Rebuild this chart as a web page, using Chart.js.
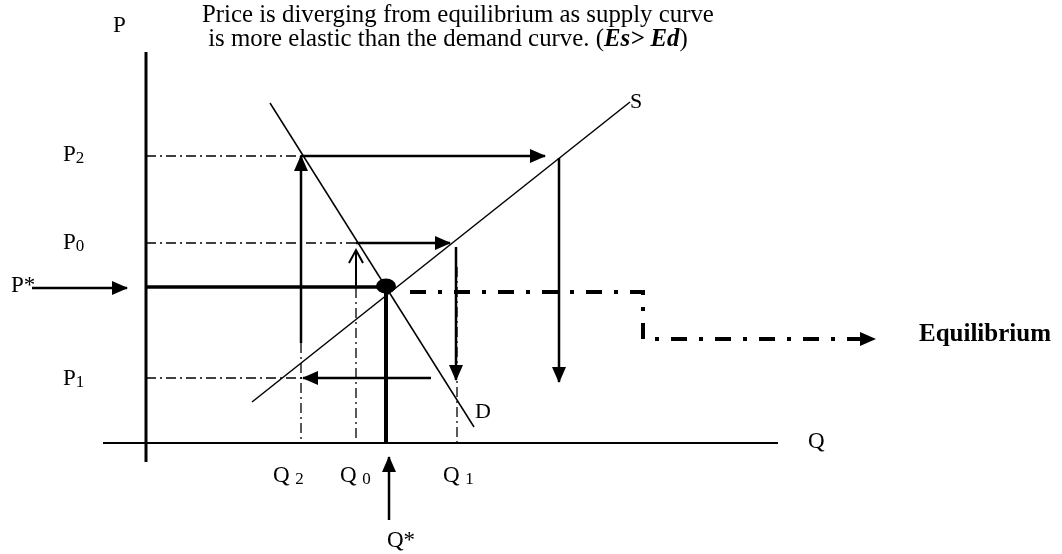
<!DOCTYPE html>
<html>
<head>
<meta charset="utf-8">
<script src="https://cdn.jsdelivr.net/npm/chart.js@4.4.1/dist/chart.umd.min.js"></script>
<style>
  html, body { margin: 0; padding: 0; background: #fff; }
  canvas { display: block; }
</style>
</head>
<body>
<canvas id="myChart" width="1062" height="554"></canvas>
<script>
// price levels (P axis) and quantity levels (Q axis)
const priceLabels = ['P2', 'P0', 'P*', 'P1'];
const priceLevels = [287, 200, 156, 65];
const quantityLabels = ['Q2', 'Q0', 'Q*', 'Q1'];
const quantityLevels = [155, 210, 240, 310];

// demand and supply curves: [Q, P] end points
const demandCurve = [[124, 340], [328, 16]];
const supplyCurve = [[106, 41], [484, 341]];

// axes
const pAxis = [[0, 391], [0, -19]];
const qAxis = [[-43, 0], [632, 0]];

// cobweb path (solid arrows)
const arrowP2 = [[155, 287], [399, 287]];
const arrowDown = [[413, 285], [413, 61]];
const arrowP0 = [[210, 200], [304, 200]];
const arrowQ1 = [[310, 196], [310, 63]];
const arrowP1 = [[285, 65], [157, 65]];
const arrowQ2 = [[155, 100], [155, 287]];
const arrowQ0 = [[210, 155], [210, 193]];

// guide lines (thin dash-dot)
const guideP2 = [[0, 287], [155, 287]];
const guideP0 = [[0, 200], [210, 200]];
const guideP1 = [[0, 65], [157, 65]];
const guideQ2 = [[155, 100], [155, 0]];
const guideQ0 = [[210, 155], [210, 0]];
const guideQ1 = [[311, 176], [311, 0]];

// equilibrium
const eqPrice = [[0, 156], [240, 156]];
const eqQuantity = [[240, 156], [240, 0]];
const eqPoint = [240, 157];
const pStarArrow = [[-114, 155], [-19, 155]];
const qStarArrow = [[243, -77], [243, -14]];
const equilibriumPath = [[264, 151], [497, 151], [497, 104], [729, 104]];

const toXY = pts => pts.map(([x, y]) => ({ x, y }));
const DASH_DOT = [10, 4, 2, 4];
const BOLD_DASH_DOT = [16, 12, 4, 12];

function seg(pts, width, extra) {
  return Object.assign({
    data: toXY(pts),
    showLine: true,
    pointRadius: 0,
    borderColor: '#000',
    backgroundColor: '#000',
    borderWidth: width,
    borderCapStyle: 'butt',
    tension: 0,
    fill: false
  }, extra || {});
}

const datasets = [
  seg(pAxis, 3),
  seg(qAxis, 2),
  seg(guideP2, 1.3, { borderDash: DASH_DOT }),
  seg(guideP0, 1.3, { borderDash: DASH_DOT }),
  seg(guideP1, 1.3, { borderDash: DASH_DOT }),
  seg(guideQ2, 1.3, { borderDash: DASH_DOT }),
  seg(guideQ0, 1.3, { borderDash: DASH_DOT }),
  seg(guideQ1, 1.3, { borderDash: DASH_DOT }),
  seg(demandCurve, 1.5),
  seg(supplyCurve, 1.5),
  seg(arrowP2, 2.5, { head: 'filled' }),
  seg(arrowDown, 2.5, { head: 'filled' }),
  seg(arrowP0, 2.5, { head: 'filled' }),
  seg(arrowQ1, 2.5, { head: 'filled' }),
  seg(arrowP1, 2.5, { head: 'filled' }),
  seg(arrowQ2, 2.5, { head: 'filled' }),
  seg(arrowQ0, 2, { head: 'open' }),
  seg(eqPrice, 3.5),
  seg(eqQuantity, 4),
  seg(pStarArrow, 2.5, { head: 'filled' }),
  seg(qStarArrow, 2.5, { head: 'filled' }),
  seg(equilibriumPath, 4, { borderDash: BOLD_DASH_DOT, head: 'filled', borderJoinStyle: 'miter' })
];

// text annotations: anchor in chart values, left / baseline aligned
const SERIF = '"Liberation Serif", "Times New Roman", serif';
const labels = [
  { text: 'P', q: -33, p: 411, size: 23 },
  { text: 'P', sub: '2', q: -83, p: priceLevels[0] - 5, size: 23 },
  { text: 'P', sub: '0', q: -83, p: priceLevels[1] - 6, size: 23 },
  { text: 'P*', q: -135, p: priceLevels[2] - 5, size: 23 },
  { text: 'P', sub: '1', q: -83, p: priceLevels[3] - 7, size: 23 },
  { text: 'Q ', sub: '2', q: 127, p: -39, size: 23 },
  { text: 'Q ', sub: '0', q: 194, p: -39, size: 23 },
  { text: 'Q*', q: 241, p: -104, size: 23 },
  { text: 'Q ', sub: '1', q: 297, p: -39, size: 23 },
  { text: 'D', q: 329, p: 25, size: 22 },
  { text: 'S', q: 484, p: 335, size: 22 },
  { text: 'Q', q: 662, p: -5, size: 23 },
  { text: 'Equilibrium', q: 773, p: 102, size: 19, bold: true, fit: 132 }
];
const titleLine1 = 'Price is diverging from equilibrium as supply curve';
const titleLine2 = [
  { text: ' is more elastic than the demand curve. (', style: '' },
  { text: 'Es> Ed', style: 'italic bold ' },
  { text: ')', style: '' }
];

const overlay = {
  id: 'overlay',
  afterDatasetsDraw(chart) {
    const { ctx } = chart;
    const sx = chart.scales.x, sy = chart.scales.y;
    const px = v => sx.getPixelForValue(v);
    const py = v => sy.getPixelForValue(v);

    // arrow heads
    chart.data.datasets.forEach(ds => {
      if (!ds.head) return;
      const a = ds.data[ds.data.length - 2], b = ds.data[ds.data.length - 1];
      const x1 = px(a.x), y1 = py(a.y), x2 = px(b.x), y2 = py(b.y);
      const ang = Math.atan2(y2 - y1, x2 - x1);
      ctx.save();
      ctx.translate(x2, y2);
      ctx.rotate(ang);
      ctx.beginPath();
      if (ds.head === 'open') {
        ctx.moveTo(-13, -7); ctx.lineTo(0, 0); ctx.lineTo(-13, 7);
        ctx.lineWidth = 2; ctx.strokeStyle = '#000'; ctx.stroke();
      } else {
        ctx.moveTo(1, 0); ctx.lineTo(-15, -7); ctx.lineTo(-15, 7); ctx.closePath();
        ctx.fillStyle = '#000'; ctx.fill();
      }
      ctx.restore();
    });

    // equilibrium point
    ctx.save();
    ctx.beginPath();
    ctx.ellipse(px(eqPoint[0]), py(eqPoint[1]), 10, 7.5, 0, 0, Math.PI * 2);
    ctx.fillStyle = '#000';
    ctx.fill();
    ctx.restore();

    // labels
    ctx.save();
    ctx.fillStyle = '#000';
    ctx.textAlign = 'left';
    ctx.textBaseline = 'alphabetic';
    labels.forEach(l => {
      let size = l.size;
      const weight = l.bold ? 'bold ' : '';
      ctx.font = weight + size + 'px ' + SERIF;
      if (l.fit) {
        size = size * l.fit / ctx.measureText(l.text).width;
        ctx.font = weight + size + 'px ' + SERIF;
      }
      const x0 = px(l.q), y0 = py(l.p);
      ctx.fillText(l.text, x0, y0);
      if (l.sub) {
        const w = ctx.measureText(l.text).width;
        ctx.font = weight + Math.round(size * 0.72) + 'px ' + SERIF;
        ctx.fillText(l.sub, x0 + w, y0 + 2);
      }
    });

    // title
    const tx = px(56), ty1 = py(421), ty2 = py(397);
    let fs = 21;
    ctx.font = fs + 'px ' + SERIF;
    fs = fs * 512 / ctx.measureText(titleLine1).width;
    ctx.font = fs + 'px ' + SERIF;
    ctx.fillText(titleLine1, tx, ty1);
    let cx = tx;
    titleLine2.forEach(part => {
      ctx.font = part.style + fs + 'px ' + SERIF;
      ctx.fillText(part.text, cx, ty2);
      cx += ctx.measureText(part.text).width;
    });
    ctx.restore();
  }
};

const ctx = document.getElementById('myChart').getContext('2d');
new Chart(ctx, {
  type: 'scatter',
  data: { datasets: datasets },
  options: {
    responsive: false,
    animation: false,
    layout: { padding: 0 },
    scales: {
      x: { type: 'linear', min: -146, max: 916, display: false },
      y: { type: 'linear', min: -111, max: 443, display: false }
    },
    plugins: {
      legend: { display: false },
      tooltip: { enabled: false }
    },
    elements: { line: { borderJoinStyle: 'miter' } }
  },
  plugins: [overlay]
});
</script>
</body>
</html>
